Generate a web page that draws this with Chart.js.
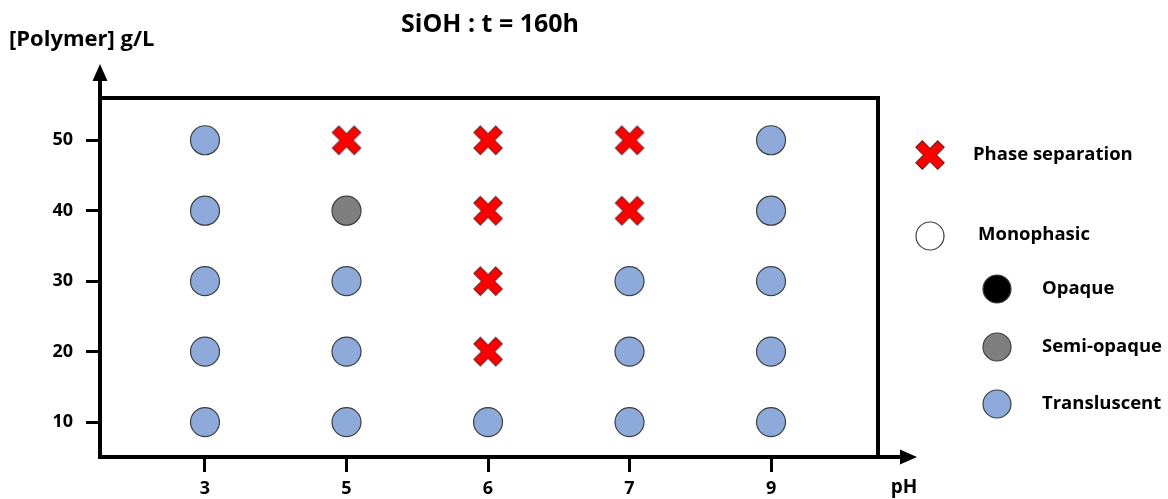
<!DOCTYPE html>
<html>
<head>
<meta charset="utf-8">
<script src="https://cdn.jsdelivr.net/npm/chart.js@4.4.1/dist/chart.umd.min.js"></script>
<style>
  html, body { margin: 0; padding: 0; background: #fff; }
</style>
</head>
<body>
<canvas id="chart" width="1168" height="499"></canvas>
<script>
// --- data ---
const pHLabels = ['3', '5', '6', '7', '9'];
const concentrations = [10, 20, 30, 40, 50];
const phaseSeparation = [['5', 50], ['6', 50], ['6', 40], ['6', 30], ['6', 20], ['7', 50], ['7', 40]];
const opaque = [];
const semiOpaque = [['5', 40]];
const translucent = [
  ['3', 10], ['3', 20], ['3', 30], ['3', 40], ['3', 50],
  ['5', 10], ['5', 20], ['5', 30],
  ['6', 10],
  ['7', 10], ['7', 20], ['7', 30],
  ['9', 10], ['9', 20], ['9', 30], ['9', 40], ['9', 50]
];
const legendLabels = ['Phase separation', 'Monophasic', 'Opaque', 'Semi-opaque', 'Transluscent'];
const chartTitle = 'SiOH : t = 160h';
const yTitle = '[Polymer] g/L';
const xTitle = 'pH';

const FONT = '"Open Sans", Lato, sans-serif';
const BLUE = '#8eaadb';
const GREY = '#7f7f7f';
const EDGE = '#3f3f3f';

const toPoints = list => list.map(([ph, c]) => ({ x: pHLabels.indexOf(ph), y: c }));

// red filled cross used as point style
function makeCross() {
  const c = document.createElement('canvas');
  c.width = c.height = 34;
  const g = c.getContext('2d');
  g.translate(17, 17);
  g.rotate(Math.PI / 4);
  const L = 15.5, w = 4.6;
  g.beginPath();
  g.moveTo(-w, -L); g.lineTo(w, -L); g.lineTo(w, -w); g.lineTo(L, -w);
  g.lineTo(L, w); g.lineTo(w, w); g.lineTo(w, L); g.lineTo(-w, L);
  g.lineTo(-w, w); g.lineTo(-L, w); g.lineTo(-L, -w); g.lineTo(-w, -w);
  g.closePath();
  g.fillStyle = '#ff0000';
  g.fill();
  g.lineWidth = 1;
  g.strokeStyle = '#6b1a1a';
  g.stroke();
  return c;
}
const cross = makeCross();

// box, arrows, titles and legend
const decor = {
  id: 'decor',
  afterDraw(chart) {
    const { ctx, chartArea: a } = chart;
    ctx.save();
    ctx.strokeStyle = '#000';
    ctx.fillStyle = '#000';
    ctx.lineWidth = 4;
    ctx.strokeRect(a.left, a.top, a.right - a.left, a.bottom - a.top);

    // y arrow
    ctx.beginPath();
    ctx.moveTo(a.left, a.top);
    ctx.lineTo(a.left, 80);
    ctx.stroke();
    ctx.beginPath();
    ctx.moveTo(a.left, 64);
    ctx.lineTo(a.left - 7.5, 81);
    ctx.lineTo(a.left + 7.5, 81);
    ctx.closePath();
    ctx.fill();

    // x arrow
    ctx.beginPath();
    ctx.moveTo(a.right, a.bottom);
    ctx.lineTo(901, a.bottom);
    ctx.stroke();
    ctx.beginPath();
    ctx.moveTo(917, a.bottom);
    ctx.lineTo(900, a.bottom - 7.5);
    ctx.lineTo(900, a.bottom + 7.5);
    ctx.closePath();
    ctx.fill();

    ctx.textBaseline = 'middle';
    ctx.font = 'bold 25px ' + FONT;
    ctx.textAlign = 'center';
    ctx.fillText(chartTitle, 490, 25);

    ctx.font = 'bold 22px ' + FONT;
    ctx.textAlign = 'left';
    ctx.fillText(yTitle, 9, 40);
    ctx.font = 'bold 19px ' + FONT;
    ctx.textAlign = 'center';
    ctx.fillText(xTitle, 904, 488);

    // legend
    ctx.font = 'bold 18.5px ' + FONT;
    ctx.textAlign = 'left';
    ctx.drawImage(cross, 930 - 17, 155 - 17);
    ctx.fillText(legendLabels[0], 973, 155);

    const circle = (x, y, fill) => {
      ctx.beginPath();
      ctx.arc(x, y, 14, 0, Math.PI * 2);
      ctx.fillStyle = fill;
      ctx.fill();
      ctx.lineWidth = 1.2;
      ctx.strokeStyle = EDGE;
      ctx.stroke();
      ctx.fillStyle = '#000';
    };
    circle(930, 236, '#ffffff');
    ctx.fillText(legendLabels[1], 978, 235);
    circle(997, 289, '#000000');
    ctx.fillText(legendLabels[2], 1042, 289);
    circle(997, 347, GREY);
    ctx.fillText(legendLabels[3], 1042, 347);
    circle(997, 404, BLUE);
    ctx.fillText(legendLabels[4], 1042, 404);
    ctx.restore();
  }
};

new Chart(document.getElementById('chart'), {
  type: 'scatter',
  data: {
    datasets: [
      { label: legendLabels[0], data: toPoints(phaseSeparation), pointStyle: cross, pointRadius: 14 },
      { label: legendLabels[2], data: toPoints(opaque), pointRadius: 14.5, backgroundColor: '#000', borderColor: EDGE, borderWidth: 1.2 },
      { label: legendLabels[3], data: toPoints(semiOpaque), pointRadius: 14.5, backgroundColor: GREY, borderColor: EDGE, borderWidth: 1.2 },
      { label: legendLabels[4], data: toPoints(translucent), pointRadius: 14.5, backgroundColor: BLUE, borderColor: EDGE, borderWidth: 1.2 }
    ]
  },
  options: {
    responsive: false,
    animation: false,
    layout: { padding: { top: 98, right: 290, left: 0, bottom: 0 } },
    plugins: { legend: { display: false }, tooltip: { enabled: false }, title: { display: false } },
    scales: {
      x: {
        type: 'linear',
        min: -0.742,
        max: 4.756,
        afterBuildTicks: s => { s.ticks = pHLabels.map((_, i) => ({ value: i })); },
        afterFit: s => { s.height = 42; },
        ticks: {
          autoSkip: false,
          padding: 6,
          color: '#000',
          font: { family: FONT, size: 18, weight: 'bold' },
          callback: v => pHLabels[v]
        },
        grid: { drawOnChartArea: false, drawTicks: true, tickLength: 15, tickWidth: 3, tickColor: '#000' },
        border: { display: false }
      },
      y: {
        min: 5.04,
        max: 56,
        afterBuildTicks: s => { s.ticks = concentrations.map(v => ({ value: v })); },
        afterFit: s => { s.width = 100; },
        ticks: {
          padding: 13,
          color: '#000',
          font: { family: FONT, size: 18, weight: 'bold' }
        },
        grid: { drawOnChartArea: false, drawTicks: true, tickLength: 14, tickWidth: 3, tickColor: '#000' },
        border: { display: false }
      }
    }
  },
  plugins: [decor]
});
</script>
</body>
</html>
